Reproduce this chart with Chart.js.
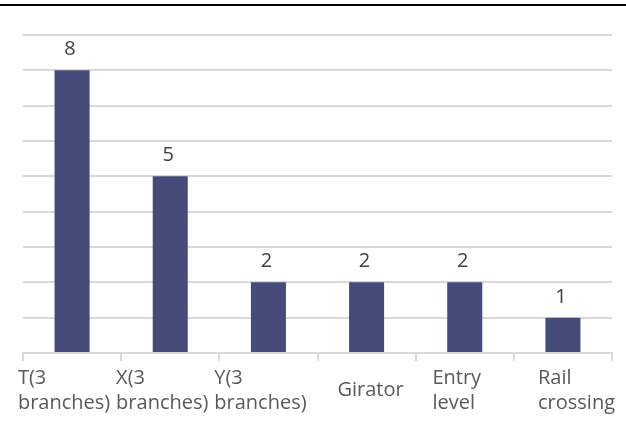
<!DOCTYPE html>
<html>
<head>
<meta charset="utf-8">
<script src="https://cdn.jsdelivr.net/npm/chart.js@4.4.1/dist/chart.umd.min.js"></script>
<style>
  html, body { margin: 0; padding: 0; background: #ffffff; }
  #wrap { position: relative; width: 626px; height: 421px; overflow: hidden; }
  #topRule { position: absolute; left: 0; top: 4px; width: 626px; height: 0; border-top: 2px solid #000000; }
  #chart { position: absolute; left: 0; top: 0; }
</style>
</head>
<body>
<div id="wrap">
  <canvas id="chart" width="626" height="421"></canvas>
  <div id="topRule"></div>
</div>
<script>
// Junction types and how many of each were counted
const categories = [
  ['T(3', 'branches)'],
  ['X(3', 'branches)'],
  ['Y(3', 'branches)'],
  ['Girator'],
  ['Entry', 'level'],
  ['Rail', 'crossing']
];
const counts = [8, 5, 2, 2, 2, 1];
const yMin = 0;
const yMax = 9;
const yStep = 1;

const FONT = '"Open Sans", "DejaVu Sans", sans-serif';

// Value written above each bar
const valueLabels = {
  id: 'valueLabels',
  afterDatasetsDraw(chart) {
    const ctx = chart.ctx;
    const meta = chart.getDatasetMeta(0);
    ctx.save();
    ctx.font = '20px ' + FONT;
    ctx.fillStyle = '#404040';
    ctx.textAlign = 'center';
    ctx.textBaseline = 'alphabetic';
    meta.data.forEach((bar, i) => {
      const v = chart.data.datasets[0].data[i];
      ctx.fillText(String(v), bar.x - 2, bar.y - 15);
    });
    ctx.restore();
  }
};

// Wrapped category names under the axis, lines left-aligned inside each block;
// single-line names sit centred, the last block stays flush with the axis end
const categoryLabels = {
  id: 'categoryLabels',
  afterDraw(chart) {
    const ctx = chart.ctx;
    const x = chart.scales.x;
    const area = chart.chartArea;
    const n = chart.data.labels.length;
    ctx.save();
    ctx.font = '20px ' + FONT;
    ctx.fillStyle = '#595959';
    ctx.textAlign = 'left';
    ctx.textBaseline = 'alphabetic';
    chart.data.labels.forEach((lines, i) => {
      const center = x.getPixelForValue(i);
      const widths = lines.map(t => ctx.measureText(t).width);
      const bw = Math.max(...widths);
      let left = center - bw / 2 - 8;
      if (lines.length === 1) left = center - bw / 2 + 4;
      if (i === n - 1) left = area.right - bw + 3;
      const midY = x.top + 36;
      const first = midY + 7 - (lines.length - 1) * 12.5;
      lines.forEach((t, k) => ctx.fillText(t, left, first + k * 25));
    });
    ctx.restore();
  }
};

new Chart(document.getElementById('chart'), {
  type: 'bar',
  data: {
    labels: categories,
    datasets: [{
      data: counts,
      backgroundColor: '#464C79',
      borderWidth: 0,
      barPercentage: 1,
      categoryPercentage: 0.357
    }]
  },
  options: {
    responsive: false,
    animation: false,
    devicePixelRatio: 1,
    layout: { padding: { left: 23, right: 14, top: 35, bottom: 60 } },
    plugins: {
      legend: { display: false },
      tooltip: { enabled: false },
      title: { display: false }
    },
    scales: {
      x: {
        offset: true,
        grid: {
          offset: true,
          drawOnChartArea: false,
          drawTicks: true,
          tickLength: 8,
          color: '#d9d9d9',
          lineWidth: 2
        },
        border: { display: true, color: '#d9d9d9', width: 2 },
        ticks: { display: false }
      },
      y: {
        min: yMin,
        max: yMax,
        ticks: { display: false, stepSize: yStep },
        grid: { color: '#d9d9d9', lineWidth: 2, drawTicks: false },
        border: { display: false }
      }
    }
  },
  plugins: [valueLabels, categoryLabels]
});
</script>
</body>
</html>
